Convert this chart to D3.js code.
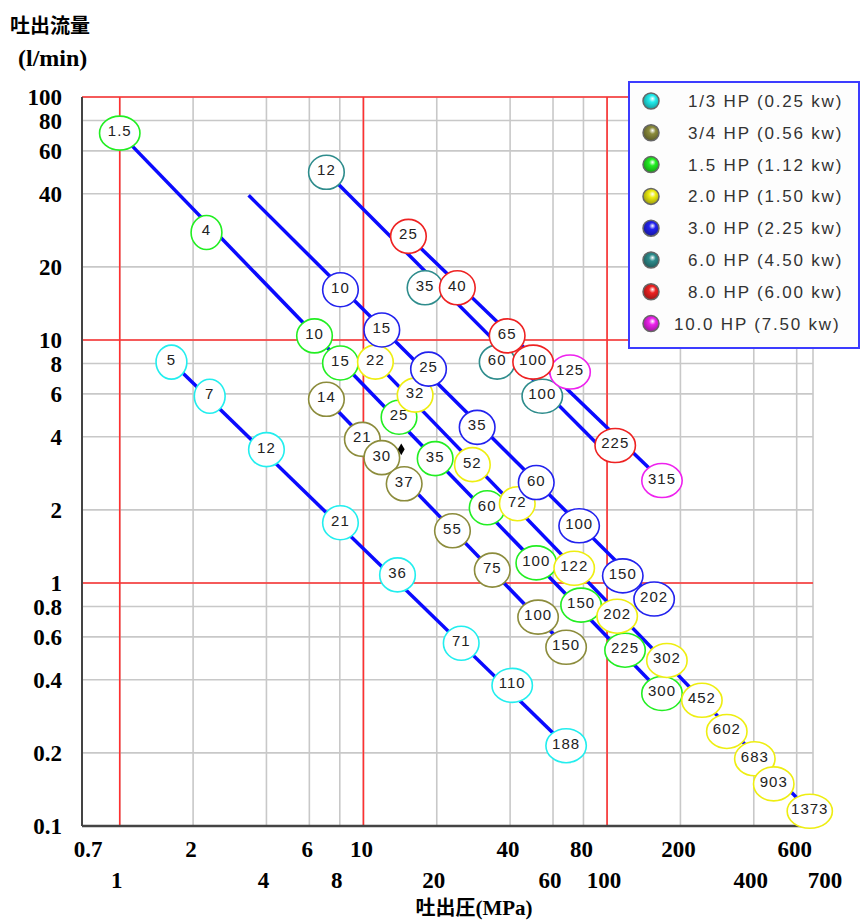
<!DOCTYPE html>
<html>
<head>
<meta charset="utf-8">
<script src="https://cdn.jsdelivr.net/npm/d3@7"></script>
<style>
  body { margin: 0; background: #fff; }
  svg { display: block; }
</style>
</head>
<body>
<div id="chart"></div>
<script>
// Grid values
const xGrid = [1, 2, 4, 6, 8, 10, 20, 40, 60, 80, 100, 200, 400, 600, 700];
const yGrid = [0.2, 0.4, 0.6, 0.8, 1, 2, 4, 6, 8, 10, 20, 40, 60, 80, 100];
const redX = [1, 10, 100];
const redY = [1, 10, 100];
const yTicks = [100, 80, 60, 40, 20, 10, 8, 6, 4, 2, 1, 0.8, 0.6, 0.4, 0.2, 0.1];
const xTicksTop = ["0.7", "2", "6", "10", "40", "80", "200", "600"];
const xTicksBottom = ["1", "4", "8", "20", "60", "100", "400", "700"];

// Legend
const motors = ["1/3 HP (0.25 kw)", "3/4 HP (0.56 kw)", "1.5 HP (1.12 kw)", "2.0 HP (1.50 kw)",
  "3.0 HP (2.25 kw)", "6.0 HP (4.50 kw)", "8.0 HP (6.00 kw)", "10.0 HP (7.50 kw)"];
const motorColors = ["#22eeee", "#8c8c3c", "#22ee22", "#eeee11", "#2222ee", "#2e8c8c", "#ee2222", "#ee22ee"];

// Labeled points per motor: [label, pressure MPa, flow l/min]
const cyanPts = [["5", 1.63, 8.11], ["7", 2.34, 5.87], ["12", 4.0, 3.54], ["21", 8.05, 1.77],
  ["36", 13.8, 1.08], ["71", 25.2, 0.565], ["110", 40.8, 0.379], ["188", 67.9, 0.214]];
const olivePts = [["14", 7.05, 5.70], ["21", 9.9, 3.90], ["30", 11.9, 3.28], ["37", 14.7, 2.56],
  ["55", 23.2, 1.64], ["75", 33.8, 1.13], ["100", 52.1, 0.724], ["150", 67.9, 0.544]];
const greenPts = [["1.5", 1.0, 71.0], ["4", 2.27, 27.7], ["10", 6.3, 10.4], ["15", 8.05, 8.04],
  ["25", 14.0, 4.81], ["35", 19.7, 3.25], ["60", 32.2, 2.04], ["100", 51.2, 1.21],
  ["150", 78.2, 0.811], ["225", 118.5, 0.529], ["300", 168, 0.351]];
const yellowPts = [["22", 11.2, 8.11], ["32", 16.3, 5.93], ["52", 28.0, 3.07], ["72", 42.8, 2.12],
  ["122", 73.3, 1.15], ["202", 110, 0.73], ["302", 176, 0.48], ["452", 245, 0.329],
  ["602", 310, 0.245], ["683", 404, 0.189], ["903", 483, 0.149], ["1373", 679, 0.115]];
const bluePts = [["10", 8.05, 16.1], ["15", 11.9, 11.0], ["25", 18.5, 7.59], ["35", 29.3, 4.37],
  ["60", 51.2, 2.59], ["100", 76.8, 1.72], ["150", 116, 1.07], ["202", 156, 0.859]];
const tealPts = [["12", 7.05, 49.0], ["35", 17.9, 16.4], ["60", 35.4, 8.11], ["100", 54.2, 5.87]];
const magentaPts = [["125", 70.5, 7.38], ["315", 168, 2.64]];
const redPts = [["25", 15.3, 26.7], ["40", 24.3, 16.4], ["65", 38.9, 10.4], ["100", 49.7, 8.11],
  ["225", 108, 3.68]];

// Power lines: start and end [pressure, flow]
const powerLines = [
  [[1.63, 8.11], [67.9, 0.214]],
  [[7.05, 5.70], [67.9, 0.544]],
  [[1.0, 71.0], [168, 0.351]],
  [[11.2, 8.11], [679, 0.115]],
  [[3.38, 39.4], [156, 0.859]],
  [[7.05, 49.0], [108, 3.15]],
  [[15.3, 26.7], [168, 2.64]]
];
const marker = [14.3, 3.55];

const width = 861, height = 921;
const svg = d3.select("#chart").append("svg")
  .attr("width", width).attr("height", height);

const x = d3.scaleLog().domain([0.7, 700]).range([82, 813]);
const y = d3.scaleLog().domain([0.1, 100]).range([826, 97]);

// Gray grid
svg.append("g").selectAll("line").data(xGrid).join("line")
  .attr("x1", d => x(d)).attr("x2", d => x(d))
  .attr("y1", y(100)).attr("y2", y(0.1))
  .attr("stroke", "#c8c8c8").attr("stroke-width", 1.6);
svg.append("g").selectAll("line").data(yGrid).join("line")
  .attr("x1", x(0.7)).attr("x2", x(700))
  .attr("y1", d => y(d)).attr("y2", d => y(d))
  .attr("stroke", "#c8c8c8").attr("stroke-width", 1.6);

// Red decade lines
svg.append("g").selectAll("line").data(redX).join("line")
  .attr("x1", d => x(d)).attr("x2", d => x(d))
  .attr("y1", y(100)).attr("y2", y(0.1))
  .attr("stroke", "#ff3030").attr("stroke-width", 1.6);
svg.append("g").selectAll("line").data(redY).join("line")
  .attr("x1", x(0.7)).attr("x2", x(700))
  .attr("y1", d => y(d)).attr("y2", d => y(d))
  .attr("stroke", "#ff3030").attr("stroke-width", 1.6);

// Axis lines
svg.append("line")
  .attr("x1", x(0.7)).attr("x2", x(0.7)).attr("y1", y(100)).attr("y2", y(0.1))
  .attr("stroke", "#444").attr("stroke-width", 2);
svg.append("line")
  .attr("x1", x(0.7)).attr("x2", x(700)).attr("y1", y(0.1)).attr("y2", y(0.1))
  .attr("stroke", "#444").attr("stroke-width", 2.5);

// Tick labels
const serif = "'Liberation Serif', 'DejaVu Serif', serif";
svg.append("g").selectAll("text").data(yTicks).join("text")
  .attr("x", 62).attr("y", d => y(d) + 8)
  .attr("text-anchor", "end")
  .style("font-family", serif).style("font-weight", "bold").style("font-size", "23px")
  .text(d => d);
svg.append("g").selectAll("text").data(xTicksTop).join("text")
  .attr("x", d => x(+d) + (d === "0.7" ? 6 : -2)).attr("y", 857)
  .attr("text-anchor", "middle")
  .style("font-family", serif).style("font-weight", "bold").style("font-size", "23px")
  .text(d => d);
svg.append("g").selectAll("text").data(xTicksBottom).join("text")
  .attr("x", d => x(+d) + (d === "700" ? 12 : -3)).attr("y", 888)
  .attr("text-anchor", "middle")
  .style("font-family", serif).style("font-weight", "bold").style("font-size", "23px")
  .text(d => d);

// Axis titles
const cjk = "'Noto Sans CJK JP', 'Noto Sans CJK SC', sans-serif";
svg.append("text").attr("x", 10).attr("y", 33)
  .style("font-family", cjk).style("font-weight", "bold").style("font-size", "20px")
  .text("吐出流量");
svg.append("text").attr("x", 18).attr("y", 66)
  .style("font-family", serif).style("font-weight", "bold").style("font-size", "24px")
  .text("(l/min)");
const xt = svg.append("text").attr("x", 474).attr("y", 915).attr("text-anchor", "middle")
  .style("font-weight", "bold").style("font-size", "20px");
xt.append("tspan").style("font-family", cjk).text("吐出圧");
xt.append("tspan").style("font-family", serif).style("font-size", "21px").text("(MPa)");

// Blue power lines
const line = d3.line().x(d => x(d[0])).y(d => y(d[1]));
svg.append("g").selectAll("path").data(powerLines).join("path")
  .attr("d", line)
  .attr("fill", "none").attr("stroke", "#0a0aff").attr("stroke-width", 3.5);

// Labeled circles
const groups = [cyanPts, olivePts, greenPts, yellowPts, bluePts, tealPts, magentaPts, redPts];
const groupColors = [motorColors[0], motorColors[1], motorColors[2], motorColors[3],
  motorColors[4], motorColors[5], motorColors[7], motorColors[6]];
groups.forEach((pts, i) => {
  const g = svg.append("g").selectAll("g").data(pts).join("g")
    .attr("transform", d => `translate(${x(d[1])},${y(d[2])})`);
  g.append("ellipse")
    .attr("rx", d => 13 + 2.4 * d[0].length).attr("ry", 17)
    .attr("fill", "#fff").attr("stroke", groupColors[i]).attr("stroke-width", 1.6);
  g.append("text")
    .attr("text-anchor", "middle").attr("y", 3)
    .style("font-family", "'Liberation Sans', Arial, sans-serif")
    .style("font-size", "15px").style("letter-spacing", "1px").style("fill", "#222")
    .text(d => d[0]);
});

// Small black marker
svg.append("path")
  .attr("d", d3.symbol(d3.symbolDiamond, 40)())
  .attr("transform", `translate(${x(marker[0])},${y(marker[1])})`)
  .attr("fill", "#000");

// Legend
const legend = svg.append("g");
legend.append("rect")
  .attr("x", 629).attr("y", 82).attr("width", 230).attr("height", 266)
  .attr("fill", "#fdfdfd").attr("stroke", "#3c3cff").attr("stroke-width", 2);
const defs = svg.append("defs");
motorColors.forEach((c, i) => {
  const grad = defs.append("radialGradient").attr("id", "ball" + i)
    .attr("cx", "55%").attr("cy", "40%").attr("r", "60%").attr("fx", "60%").attr("fy", "35%");
  grad.append("stop").attr("offset", "0%").attr("stop-color", "#fff");
  grad.append("stop").attr("offset", "35%").attr("stop-color", c);
  grad.append("stop").attr("offset", "100%").attr("stop-color", d3.color(c).darker(1.2));
});
const rows = legend.selectAll("g").data(motors).join("g")
  .attr("transform", (d, i) => `translate(0,${100 + i * 31.8})`);
rows.append("circle").attr("cx", 651).attr("cy", 1).attr("r", 8)
  .attr("fill", (d, i) => `url(#ball${i})`).attr("stroke", "#666").attr("stroke-width", 1.5);
rows.append("text")
  .attr("x", d => d.startsWith("10.0") ? 674 : 688).attr("y", 7)
  .style("font-family", "'Liberation Sans', Arial, sans-serif")
  .style("font-size", "17px").style("letter-spacing", "1.8px").style("fill", "#333")
  .text(d => d);
</script>
</body>
</html>
